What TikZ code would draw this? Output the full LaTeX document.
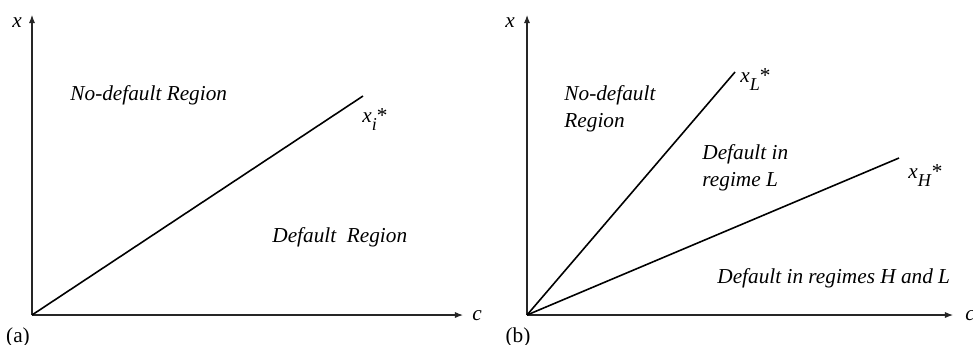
\documentclass[tikz,border=0pt]{standalone}
\usepackage{fontspec}
\setmainfont{Liberation Serif}
\usetikzlibrary{positioning,arrows.meta}

\newcommand{\thresh}[1]{\textit{x}\raisebox{-0.85ex}{\fontsize{8.5}{9}\selectfont\textit{#1}}*}

\begin{document}
\begin{tikzpicture}[x=0.47pt, y=-0.47pt, >={Latex[length=3.8pt,width=2.9pt]},
    axisline/.style={->, line width=0.5pt, black!85},
    cutline/.style={line width=0.75pt},
    regionlbl/.style={font=\itshape\fontsize{10}{12.6}\selectfont, align=left, inner sep=0pt},
    axislbl/.style={font=\itshape, inner sep=0pt}]
  \useasboundingbox (0,0) rectangle (973,344);
  % panel (a)
  \coordinate (oa) at (32,315);
  \coordinate (ya) at (32,15);
  \coordinate (ca) at (463,315);
  \coordinate (ea) at (363,96);
  \draw[axisline] (oa) -- (ya);
  \draw[axisline] (oa) -- (ca);
  \draw[cutline] (oa) -- (ea);
  \node[axislbl, anchor=base west] (xa) at (12,27) {x};
  \node[axislbl, anchor=base west] (cla) at (472,320) {c};
  \node[inner sep=0pt] (pa) at (18,337) {(a)};
  \node[anchor=base west, inner sep=0pt] (ta) at (362,122) {\thresh{i}};
  \node[regionlbl, anchor=base west] (nda) at (70,100) {No-default Region};
  \node[regionlbl, anchor=base west] (dfa) at (272,242) {Default\ \ Region};
  % panel (b)
  \coordinate (ob) at (527,315);
  \coordinate (yb) at (527,15);
  \coordinate (cb) at (953,315);
  \coordinate (eL) at (735,72);
  \coordinate (eH) at (899,158);
  \draw[axisline] (ob) -- (yb);
  \draw[axisline] (ob) -- (cb);
  \draw[cutline] (ob) -- (eL);
  \draw[cutline] (ob) -- (eH);
  \node[axislbl, anchor=base west] (xb) at (505,27) {x};
  \node[axislbl, anchor=base west] (clb) at (965,320) {c};
  \node[inner sep=0pt] (pb) at (518,337) {(b)};
  \node[anchor=base west, inner sep=0pt] (tL) at (740,82) {\thresh{L}};
  \node[anchor=base west, inner sep=0pt] (tH) at (908,178) {\thresh{H}};
  \node[regionlbl, anchor=west] (ndb) at (564,109) {No-default\\Region};
  \node[regionlbl, anchor=west] (dL) at (702,168) {Default in\\regime L};
  \node[regionlbl, anchor=base west] (dHL) at (717,283) {Default in regimes H and L};
\end{tikzpicture}
\end{document}
